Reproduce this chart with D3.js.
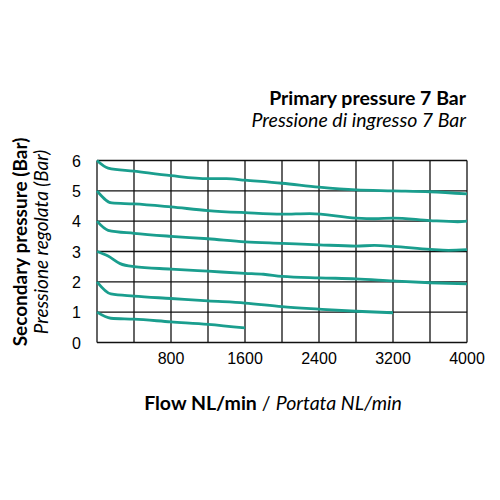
<!DOCTYPE html><html><head><script src="https://cdn.jsdelivr.net/npm/d3@7"></script>
<style>body{margin:0}</style></head><body><svg width="500" height="500"></svg><script>
const xTicks=[800,1600,2400,3200,4000];
const yTicks=[0,1,2,3,4,5,6];
const s1=[[0,6],[120,5.75],[400,5.65],[800,5.5],[1200,5.4],[1400,5.4],[1600,5.35],[2000,5.25],[2400,5.12],[2800,5.03],[3200,5.0],[3600,4.97],[4000,4.9]];
const s2=[[0,5],[160,4.6],[400,4.57],[800,4.47],[1200,4.35],[1600,4.28],[2000,4.23],[2300,4.25],[2800,4.1],[3000,4.08],[3200,4.1],[3600,4.02],[3900,3.98],[4000,4.0]];
const s3=[[0,4],[120,3.7],[400,3.6],[800,3.5],[1200,3.42],[1600,3.32],[2000,3.27],[2400,3.22],[2800,3.18],[3000,3.2],[3200,3.17],[3600,3.07],[3800,3.04],[4000,3.06]];
const s4=[[0,3],[120,2.85],[250,2.6],[400,2.5],[800,2.42],[1200,2.35],[1600,2.28],[1800,2.25],[2000,2.18],[2400,2.13],[2800,2.1],[3200,2.03],[3600,1.97],[4000,1.93]];
const s5=[[0,2],[150,1.6],[400,1.53],[800,1.45],[1200,1.37],[1600,1.3],[2000,1.18],[2400,1.1],[2800,1.03],[3200,0.98]];
const s6=[[0,1],[150,0.8],[400,0.77],[800,0.68],[1200,0.6],[1600,0.48]];
const series=[s1,s2,s3,s4,s5,s6];
const svg=d3.select("svg");
const x=d3.scaleLinear().domain([0,4000]).range([97,467]);
const y=d3.scaleLinear().domain([0,6]).range([342.5,160.5]);
const g=svg.append("g");
d3.range(0,4001,400).forEach(v=>g.append("line").attr("x1",x(v)).attr("x2",x(v)).attr("y1",y(0)).attr("y2",y(6)).attr("stroke","#111").attr("stroke-width",1.3));
yTicks.forEach(v=>g.append("line").attr("x1",x(0)).attr("x2",x(4000)).attr("y1",y(v)).attr("y2",y(v)).attr("stroke","#111").attr("stroke-width",1.3));
const f="Liberation Sans, Arial, sans-serif";
xTicks.forEach(v=>svg.append("text").attr("x",x(v)).attr("y",364).attr("text-anchor","middle").attr("font-family",f).attr("font-size",16).text(v));
yTicks.forEach(v=>svg.append("text").attr("x",81).attr("y",y(v)+6).attr("text-anchor","end").attr("font-family",f).attr("font-size",16).text(v));
const line=d3.line().x(d=>x(d[0])).y(d=>y(d[1])).curve(d3.curveMonotoneX);
series.forEach(s=>svg.append("path").attr("d",line(s)).attr("fill","none").attr("stroke","#1a9e8e").attr("stroke-width",2.8));
const tf="Lato, 'Open Sans', sans-serif";
svg.append("text").attr("x",466).attr("y",105).attr("text-anchor","end").attr("font-family",tf).attr("font-weight","bold").attr("font-size",19.5).text("Primary pressure 7 Bar");
svg.append("text").attr("x",466).attr("y",127).attr("text-anchor","end").attr("font-family",tf).attr("font-style","italic").attr("font-size",19.5).text("Pressione di ingresso 7 Bar");
svg.append("text").attr("transform","translate(27,242) rotate(-90)").attr("text-anchor","middle").attr("font-family",tf).attr("font-weight","bold").attr("font-size",19).text("Secondary pressure (Bar)");
svg.append("text").attr("transform","translate(48,242) rotate(-90)").attr("text-anchor","middle").attr("font-family",tf).attr("font-style","italic").attr("font-size",19).text("Pressione regolata (Bar)");
const t=svg.append("text").attr("x",273).attr("y",410).attr("text-anchor","middle").attr("font-family",tf).attr("font-size",19.5);
t.append("tspan").attr("font-weight","bold").text("Flow NL/min");
t.append("tspan").text(" / ");
t.append("tspan").attr("font-style","italic").text("Portata NL/min");
</script></body></html>
